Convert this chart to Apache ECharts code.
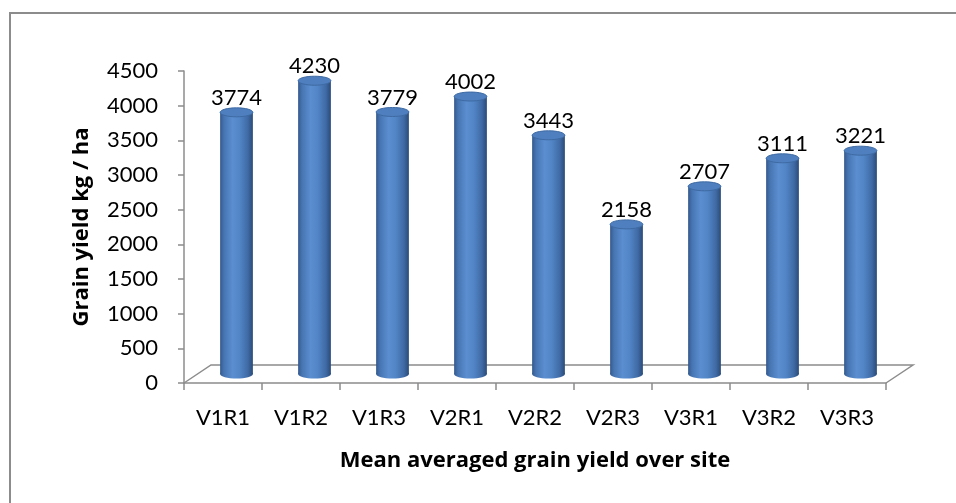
<!DOCTYPE html>
<html>
<head>
<meta charset="utf-8">
<script src="https://cdn.jsdelivr.net/npm/echarts@6/dist/echarts.min.js"></script>
<style>
html,body{margin:0;padding:0;background:#fff;}
#frame{position:absolute;left:9px;top:12px;width:960px;height:500px;border:2px solid #8c8c8c;box-sizing:border-box;}
#chart{position:absolute;left:0;top:0;width:956px;height:503px;}
</style>
</head>
<body>
<div id="frame"></div>
<div id="chart"></div>
<script>
var categories = ['V1R1','V1R2','V1R3','V2R1','V2R2','V2R3','V3R1','V3R2','V3R3'];
var yields = [3774, 4230, 3779, 4002, 3443, 2158, 2707, 3111, 3221];
var yTicks = {min: 0, max: 4500, interval: 500};
var xTitle = 'Mean averaged grain yield over site';
var yTitle = 'Grain yield kg / ha';

var FONT = 'Lato, "Open Sans", sans-serif';
var TITLE_FONT = '"Open Sans", Lato, sans-serif';
var DEPTH_X = 27, DEPTH_Y = -18;
var chart = echarts.init(document.getElementById('chart'), null, {renderer: 'canvas'});

function barItem(params, api) {
  var idx = api.value(0);
  var val = api.value(1);
  var base = api.coord([idx, 0]);
  var top = api.coord([idx, val]);
  var band = api.size([1, 0])[0];
  var w = band * 0.42;
  var cx = base[0] + DEPTH_X / 2;
  var y0 = base[1] + DEPTH_Y / 2;
  var y1 = top[1] + DEPTH_Y / 2;
  var ry = 4.5;
  var grad = new echarts.graphic.LinearGradient(0, 0, 1, 0, [
    {offset: 0, color: '#34598c'},
    {offset: 0.12, color: '#4775b2'},
    {offset: 0.38, color: '#5b8ed0'},
    {offset: 0.6, color: '#5285c6'},
    {offset: 0.85, color: '#3f6aa4'},
    {offset: 1, color: '#2b4b78'}
  ]);
  return {
    type: 'group',
    children: [
      {type: 'ellipse', shape: {cx: cx, cy: y0, rx: w / 2, ry: ry}, style: {fill: grad}},
      {type: 'rect', shape: {x: cx - w / 2, y: y1, width: w, height: y0 - y1}, style: {fill: grad}},
      {type: 'ellipse', shape: {cx: cx, cy: y1, rx: w / 2, ry: ry},
        style: {fill: '#4f7fbe', stroke: '#3e6aa3', lineWidth: 1}},
      {type: 'text', x: cx, y: y1 - ry + 1,
        style: {text: String(val), fill: '#000', font: '22px ' + FONT, align: 'center', verticalAlign: 'bottom'}}
    ]
  };
}

function floorItem(params, api) {
  var first = api.coord([0, 0]);
  var band = api.size([1, 0])[0];
  var left = first[0] - band / 2;
  var right = left + categories.length * band;
  var y = first[1];
  return {
    type: 'polyline',
    shape: {points: [[left, y], [left + DEPTH_X, y + DEPTH_Y], [right + DEPTH_X, y + DEPTH_Y], [right, y]]},
    style: {stroke: '#8c8c8c', lineWidth: 1.5, fill: null},
    z2: 0
  };
}

chart.setOption({
  animation: false,
  grid: {left: 184, right: 70, top: 71, bottom: 120},
  xAxis: {
    type: 'category',
    data: categories,
    name: xTitle,
    nameLocation: 'middle',
    nameGap: 67,
    nameTextStyle: {fontFamily: TITLE_FONT, fontWeight: 'bold', fontSize: 22, color: '#000'},
    axisLine: {show: true, lineStyle: {color: '#8c8c8c', width: 1.5}},
    axisTick: {show: true, length: 7, lineStyle: {color: '#8c8c8c', width: 1.5}},
    axisLabel: {fontFamily: FONT, fontSize: 22, color: '#000', margin: 24},
    splitLine: {show: false}
  },
  yAxis: {
    type: 'value',
    min: yTicks.min, max: yTicks.max, interval: yTicks.interval,
    name: yTitle,
    nameLocation: 'middle',
    nameGap: 91,
    nameTextStyle: {fontFamily: TITLE_FONT, fontWeight: 'bold', fontSize: 22, color: '#000'},
    axisLine: {show: true, lineStyle: {color: '#8c8c8c', width: 1.5}},
    axisTick: {show: true, length: 6, lineStyle: {color: '#8c8c8c', width: 1.5}},
    axisLabel: {fontFamily: FONT, fontSize: 22, color: '#000', margin: 26, formatter: function (v) { return String(v); }},
    splitLine: {show: false}
  },
  series: [
    {type: 'custom', renderItem: floorItem, data: [[0, 0]], z: 1, silent: true},
    {type: 'custom', renderItem: barItem, data: yields.map(function (v, i) { return [i, v]; }), z: 2}
  ]
});
</script>
</body>
</html>
